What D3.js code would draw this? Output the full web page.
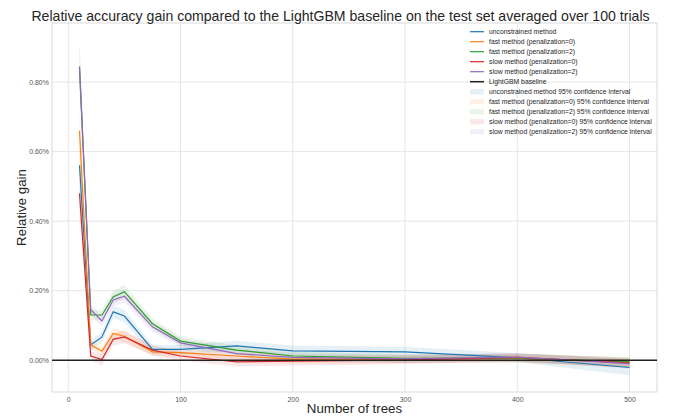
<!DOCTYPE html>
<html>
<head>
<meta charset="utf-8">
<script src="https://cdn.jsdelivr.net/npm/d3@7/dist/d3.min.js"></script>
<style>
  html, body { margin: 0; padding: 0; background: #fff; }
  svg { display: block; font-family: "Liberation Sans", Arial, sans-serif; }
</style>
</head>
<body>
<svg id="chart" width="681" height="417"></svg>
<script>
// ---- Data ----
const trees = [10, 20, 30, 40, 50, 75, 100, 150, 200, 300, 400, 500];

const unconstrained = [0.561, 0.044, 0.067, 0.139, 0.127, 0.031, 0.031, 0.041, 0.027, 0.024, 0.007, -0.021];
const fastPen0      = [0.660, 0.044, 0.026, 0.077, 0.069, 0.024, 0.022, 0.012, 0.003, 0.003, 0.005, -0.006];
const fastPen2      = [0.845, 0.130, 0.130, 0.182, 0.197, 0.105, 0.055, 0.029, 0.012, 0.005, 0.006, -0.005];
const slowPen0      = [0.480, 0.012, 0.002, 0.060, 0.067, 0.029, 0.012, -0.005, -0.003, 0.001, 0.008, -0.008];
const slowPen2      = [0.842, 0.145, 0.113, 0.173, 0.184, 0.096, 0.050, 0.019, 0.008, 0.004, 0.009, -0.010];

// 95% confidence interval half-widths
const unconstrainedCI = [0.060, 0.015, 0.015, 0.018, 0.018, 0.013, 0.013, 0.015, 0.015, 0.015, 0.013, 0.022];
const fastPen0CI      = [0.060, 0.012, 0.012, 0.015, 0.015, 0.012, 0.012, 0.012, 0.012, 0.012, 0.012, 0.014];
const fastPen2CI      = [0.070, 0.015, 0.015, 0.018, 0.020, 0.015, 0.013, 0.013, 0.012, 0.012, 0.012, 0.014];
const slowPen0CI      = [0.050, 0.012, 0.018, 0.018, 0.018, 0.015, 0.013, 0.013, 0.012, 0.012, 0.012, 0.014];
const slowPen2CI      = [0.065, 0.015, 0.015, 0.018, 0.018, 0.015, 0.013, 0.013, 0.012, 0.012, 0.012, 0.014];

const seriesNames = [
  "unconstrained method",
  "fast method (penalization=0)",
  "fast method (penalization=2)",
  "slow method (penalization=0)",
  "slow method (penalization=2)"
];
const baselineName = "LightGBM baseline";
const xTicks = [0, 100, 200, 300, 400, 500];
const yTicks = [0, 0.2, 0.4, 0.6, 0.8];

const titleText = "Relative accuracy gain compared to the LightGBM baseline on the test set averaged over 100 trials";
const xLabel = "Number of trees";
const yLabel = "Relative gain";

// ---- Build ----
const colors = ["#1f77b4", "#ff7f0e", "#2ca02c", "#d62728", "#9467bd"];
const values = [unconstrained, fastPen0, fastPen2, slowPen0, slowPen2];
const cis = [unconstrainedCI, fastPen0CI, fastPen2CI, slowPen0CI, slowPen2CI];
const series = seriesNames.map((name, i) => ({
  name, color: colors[i],
  points: trees.map((t, j) => ({ x: t, y: values[i][j], lo: values[i][j] - cis[i][j], hi: values[i][j] + cis[i][j] }))
}));

const W = 681, H = 417;
const m = { left: 52, right: 657, top: 23, bottom: 392 };
const svg = d3.select("#chart");

const x = d3.scaleLinear().domain([-14.5, 524.5]).range([m.left, m.right]);
const y = d3.scaleLinear().domain([-0.0915, 0.970]).range([m.bottom, m.top]);

// Grid
const grid = svg.append("g");
grid.selectAll("line.vx").data(xTicks).join("line")
  .attr("x1", d => x(d)).attr("x2", d => x(d))
  .attr("y1", m.top).attr("y2", m.bottom)
  .attr("stroke", "#e6e6e6").attr("stroke-width", 1);
grid.selectAll("line.hy").data(yTicks).join("line")
  .attr("x1", m.left).attr("x2", m.right)
  .attr("y1", d => y(d)).attr("y2", d => y(d))
  .attr("stroke", "#e6e6e6").attr("stroke-width", 1);

// Spines
svg.append("rect")
  .attr("x", m.left).attr("y", m.top)
  .attr("width", m.right - m.left).attr("height", m.bottom - m.top)
  .attr("fill", "none").attr("stroke", "#d9d9d9").attr("stroke-width", 1);

// Axes (tick labels only)
const xAxis = svg.append("g").attr("transform", `translate(0,${m.bottom})`)
  .call(d3.axisBottom(x).tickValues(xTicks).tickSize(0).tickPadding(5).tickFormat(d3.format("d")));
const yAxis = svg.append("g").attr("transform", `translate(${m.left},0)`)
  .call(d3.axisLeft(y).tickValues(yTicks).tickSize(0).tickPadding(3).tickFormat(d => d3.format(".2f")(d) + "%"));
[xAxis, yAxis].forEach(g => {
  g.select(".domain").remove();
  g.selectAll("text").attr("fill", "#555").style("font-size", "7px")
    .style("font-family", "'Liberation Sans', Arial, sans-serif");
});

// Clip
svg.append("clipPath").attr("id", "clip").append("rect")
  .attr("x", m.left).attr("y", m.top).attr("width", m.right - m.left).attr("height", m.bottom - m.top);
const plot = svg.append("g").attr("clip-path", "url(#clip)");

// CI bands
const area = d3.area().x(d => x(d.x)).y0(d => y(d.lo)).y1(d => y(d.hi));
plot.selectAll("path.band").data(series).join("path")
  .attr("d", d => area(d.points))
  .attr("fill", d => d.color).attr("fill-opacity", 0.11).attr("stroke", "none");

// Lines
const line = d3.line().x(d => x(d.x)).y(d => y(d.y));
plot.selectAll("path.line").data(series).join("path")
  .attr("d", d => line(d.points))
  .attr("fill", "none").attr("stroke", d => d.color).attr("stroke-width", 1.2);

// Baseline
plot.append("line")
  .attr("x1", m.left).attr("x2", m.right)
  .attr("y1", y(0)).attr("y2", y(0))
  .attr("stroke", "#222").attr("stroke-width", 1.5);

// Legend
const leg = svg.append("g").style("font-size", "6.8px");
const lx0 = 470, lx1 = 484, ltx = 489, ly0 = 31.7, ldy = 10;
const lineEntries = series.map(s => ({ label: s.name, color: s.color, kind: "line", w: 1.2 }))
  .concat([{ label: baselineName, color: "#222", kind: "line", w: 1.5 }]);
const patchEntries = series.map(s => ({ label: s.name + " 95% confidence interval", color: s.color, kind: "patch" }));
const entries = lineEntries.concat(patchEntries);
entries.forEach((e, i) => {
  const cy = ly0 + i * ldy;
  if (e.kind === "line") {
    leg.append("line").attr("x1", lx0).attr("x2", lx1).attr("y1", cy).attr("y2", cy)
      .attr("stroke", e.color).attr("stroke-width", e.w);
  } else {
    leg.append("rect").attr("x", lx0).attr("y", cy - 2.6).attr("width", lx1 - lx0).attr("height", 5.2)
      .attr("fill", e.color).attr("fill-opacity", 0.11);
  }
  leg.append("text").attr("x", ltx).attr("y", cy).attr("dy", "0.35em")
    .attr("fill", "#262626").text(e.label);
});

// Title and labels
svg.append("text").attr("x", W / 2).attr("y", 21).attr("text-anchor", "middle")
  .style("font-size", "14.1px").attr("fill", "#262626").text(titleText);
svg.append("text").attr("x", (m.left + m.right) / 2).attr("y", 412.5).attr("text-anchor", "middle")
  .style("font-size", "13.3px").attr("fill", "#262626").text(xLabel);
svg.append("text").attr("transform", `translate(26,${(m.top + m.bottom) / 2}) rotate(-90)`)
  .attr("text-anchor", "middle").style("font-size", "13.3px").attr("fill", "#262626").text(yLabel);
</script>
</body>
</html>
